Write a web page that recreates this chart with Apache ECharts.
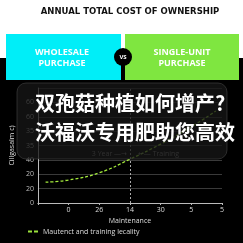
<!DOCTYPE html>
<html><head><meta charset="utf-8">
<script src="https://cdn.jsdelivr.net/npm/echarts@6/dist/echarts.min.js"></script>
<style>
html,body{margin:0;padding:0;}
#c{width:243px;height:243px;background:linear-gradient(#ffffff 0,#ffffff 58px,#000000 58px,#000000 243px);}
</style></head><body><div id="c"></div>
<script>
const title = "ANNUAL TOTAL COST OF OWNERSHIP";
const leftBoxText = "WHOLESALE\nPURCHASE";
const rightBoxText = "SINGLE-UNIT\nPURCHASE";
const overlayLines = ["双孢菇种植如何增产?", "沃福沃专用肥助您高效"];
const xTickLabels = ["", "0", "26", "14", "30", "5", "5"];
const yTickLabels = ["0", "20", "20", "40", "35", "35", "60", "60", ""];
const seriesName = "Mautenct and training lecality";
const curveX = [0.25, 1, 2, 3, 4, 5, 5.8];
const curveY = [14.5, 16, 21, 30.5, 41, 53, 64];
const markerX = 3;
const annoLeft = "3 Year \u2014\u2192";
const annoRight = "\u2190\u2014 Training";
const annoY = 34;
const xName = "Maintenance";
const yName = "Cillgasalm c)";

const chart = echarts.init(document.getElementById('c'), null, {renderer:'canvas'});
const font = '"Open Sans", "DejaVu Sans", sans-serif';
chart.setOption({
  animation:false,
  textStyle:{fontFamily:font},
  grid:{left:27,right:21,top:88,bottom:40,containLabel:false},
  xAxis:{type:'value',min:0,max:6,interval:1,
    name:xName,nameLocation:'middle',nameGap:14,
    nameTextStyle:{color:'#dddddd',fontSize:7},
    axisLine:{lineStyle:{color:'#bbbbbb',width:1}},
    axisTick:{show:true,length:2,lineStyle:{color:'#bbbbbb'}},
    splitLine:{show:false},
    axisLabel:{color:'#dddddd',fontSize:7,margin:3,formatter:v=>xTickLabels[Math.round(v)]||''}},
  yAxis:{type:'value',min:0,max:80,interval:10,
    name:yName,nameLocation:'middle',nameGap:19,nameRotate:90,
    nameTextStyle:{color:'#dddddd',fontSize:7},
    axisLine:{show:true,lineStyle:{color:'#bbbbbb',width:1}},
    axisTick:{show:false},
    splitLine:{show:true,lineStyle:{color:'#3a3a3a',width:1}},
    axisLabel:{color:'#bbbbbb',fontSize:7,margin:4,formatter:v=>yTickLabels[Math.round(v/10)]||''}},
  legend:{show:true,left:23,bottom:3,itemWidth:10,itemHeight:2,itemGap:5,
    itemStyle:{color:'#9be23c',borderWidth:0},lineStyle:{width:0},
    textStyle:{color:'#dddddd',fontSize:7},
    data:[{name:seriesName,icon:'path://M0,0h4v2h-4z M6,0h4v2h-4z'}]},
  series:[{
    name:seriesName,type:'line',smooth:true,symbol:'none',
    lineStyle:{color:'#a4ec3c',width:1.3,type:[3,2]},
    itemStyle:{color:'#9be23c'},
    data:curveX.map((x,i)=>[x,curveY[i]]),
    markLine:{silent:true,symbol:'none',label:{show:false},
      lineStyle:{color:'#aaaaaa',type:[2,2],width:1},
      data:[{xAxis:markerX}]},
    markPoint:{symbol:'circle',symbolSize:0,silent:true,
      data:[
        {coord:[markerX,annoY],label:{show:true,position:'left',distance:3,formatter:annoLeft,color:'#8a8a8a',fontSize:7}},
        {coord:[markerX,annoY],label:{show:true,position:'right',distance:8,formatter:annoRight,color:'#8a8a8a',fontSize:7}}
      ]}
  }],
  graphic:[
    {type:'text',x:130,y:12,z:10,style:{text:title,fill:'#111111',align:'center',verticalAlign:'middle',font:'bold 8.5px "DejaVu Sans", sans-serif'}},
    {type:'rect',shape:{x:6,y:34,width:115,height:46},style:{fill:'#00eef8'},z:5},
    {type:'rect',shape:{x:125,y:34,width:114,height:46},style:{fill:'#7fe640'},z:5},
    {type:'text',x:62,y:58,z:6,style:{text:leftBoxText,fill:'#ffffff',align:'center',verticalAlign:'middle',lineHeight:11,font:'bold 9px "Open Sans", sans-serif'}},
    {type:'text',x:182,y:58,z:6,style:{text:rightBoxText,fill:'#ffffff',align:'center',verticalAlign:'middle',lineHeight:11,font:'bold 9px "Open Sans", sans-serif'}},
    {type:'rect',shape:{x:122,y:60,width:2,height:22},style:{fill:'#000000'},z:7},
    {type:'circle',shape:{cx:123,cy:57,r:9},style:{fill:'#000000'},z:8},
    {type:'text',x:123,y:57,z:9,style:{text:'VS',fill:'#ffffff',align:'center',verticalAlign:'middle',font:'bold 6px "Open Sans", sans-serif'}},
    {type:'rect',shape:{x:17,y:83,width:210,height:76,r:9},style:{fill:'rgba(22,22,22,0.78)',stroke:'rgba(80,80,80,0.5)',lineWidth:1},z:100},
    {type:'text',x:35,y:103,z:101,style:{text:overlayLines[0],fill:'#ffffff',align:'left',verticalAlign:'middle',font:'bold 20px "Noto Sans CJK SC", sans-serif'}},
    {type:'text',x:35,y:132,z:101,style:{text:overlayLines[1],fill:'#ffffff',align:'left',verticalAlign:'middle',font:'bold 20px "Noto Sans CJK SC", sans-serif'}}
  ]
});
</script></body></html>
